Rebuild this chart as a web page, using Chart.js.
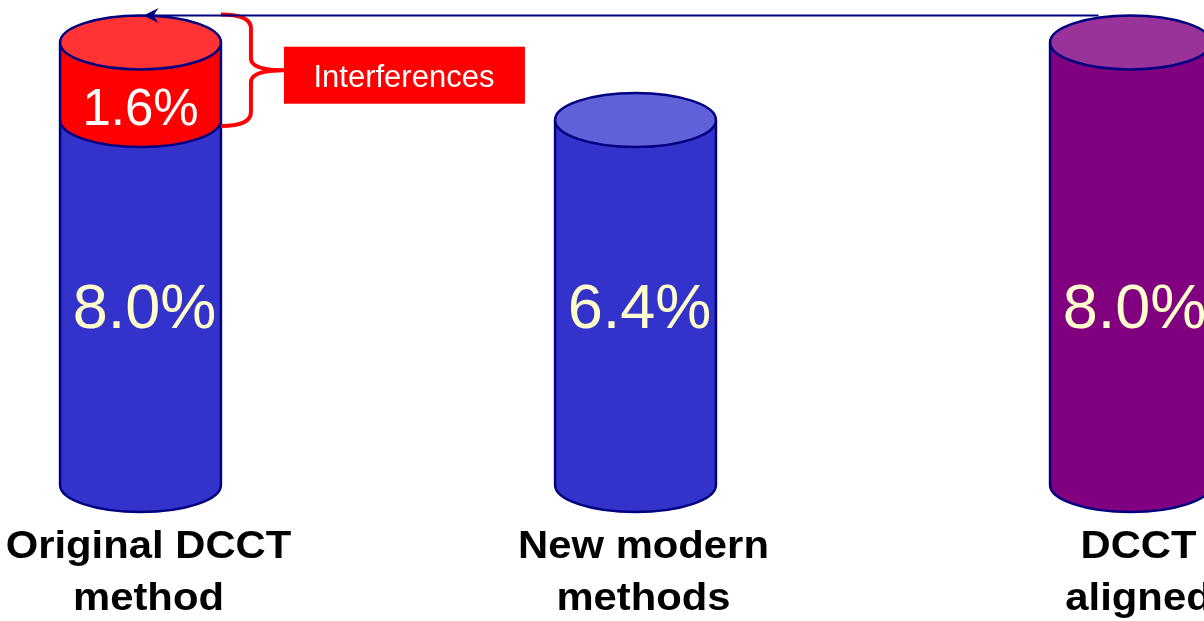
<!DOCTYPE html>
<html>
<head>
<meta charset="utf-8">
<script src="https://cdn.jsdelivr.net/npm/chart.js@4"></script>
<style>
	html, body { margin: 0; padding: 0; background: #fff; overflow: hidden; width: 1204px; height: 621px; }
	#cylChart { position: absolute; left: -107px; top: 0; }
</style>
</head>
<body>
<canvas id="cylChart" width="1485" height="621"></canvas>
<script>
const categories = [['Original DCCT', 'method'], ['New modern', 'methods'], ['DCCT', 'aligned']];
const baseHeights = [8.0, 8.0, 9.7];
const interferenceHeights = [1.7, 0, 0];
const baseLabels = ['8.0%', '6.4%', '8.0%'];
const interferenceLabels = ['1.6%', '', ''];
const calloutText = 'Interferences';

const sideColors = ['#3333CC', '#3333CC', '#800080'];
const topColors = ['#6060D9', '#6060D9', '#993399'];
const redSide = '#FF0000';
const redTop = '#FF3333';
const outline = '#000080';
const RY = 27;
const FONT = '"Liberation Sans", Arial, sans-serif';

function cylBody(ctx, cx, rx, yt, yb, fill) {
	ctx.beginPath();
	ctx.moveTo(cx - rx, yt);
	ctx.lineTo(cx - rx, yb);
	ctx.ellipse(cx, yb, rx, RY, 0, Math.PI, 0, true);
	ctx.lineTo(cx + rx, yt);
	ctx.ellipse(cx, yt, rx, RY, 0, 0, Math.PI, true);
	ctx.closePath();
	ctx.fillStyle = fill;
	ctx.fill();
	ctx.beginPath();
	ctx.moveTo(cx - rx, yt);
	ctx.lineTo(cx - rx, yb);
	ctx.ellipse(cx, yb, rx, RY, 0, Math.PI, 0, true);
	ctx.lineTo(cx + rx, yt);
	ctx.stroke();
}

function cylTop(ctx, cx, rx, y, fill) {
	ctx.beginPath();
	ctx.ellipse(cx, y, rx, RY, 0, 0, Math.PI * 2);
	ctx.fillStyle = fill;
	ctx.fill();
	ctx.stroke();
}

const cylinderPlugin = {
	id: 'cylinders',
	beforeDatasetsDraw(chart) {
		const ctx = chart.ctx;
		const base = chart.getDatasetMeta(0).data;
		const extra = chart.getDatasetMeta(1).data;
		const y = chart.scales.y;

		ctx.save();
		ctx.lineWidth = 2.5;
		ctx.strokeStyle = outline;
		base.forEach((bar, i) => {
			const rx = bar.width / 2;
			cylBody(ctx, bar.x, rx, bar.y, bar.base, sideColors[i]);
			const top = extra[i];
			if (interferenceHeights[i] > 0) {
				cylBody(ctx, top.x, rx, top.y, top.base, redSide);
				cylTop(ctx, top.x, rx, top.y, redTop);
			} else {
				cylTop(ctx, bar.x, rx, bar.y, topColors[i]);
			}
		});

		// value labels
		ctx.textAlign = 'center';
		ctx.textBaseline = 'alphabetic';
		base.forEach((bar, i) => {
			ctx.fillStyle = '#FFFFCC';
			ctx.font = '63px ' + FONT;
			ctx.fillText(baseLabels[i], bar.x + 4, y.getPixelForValue(4) + 26);
			if (interferenceLabels[i]) {
				ctx.fillStyle = '#FFFFFF';
				ctx.font = '51px ' + FONT;
				ctx.fillText(interferenceLabels[i], extra[i].x, extra[i].base + 5);
			}
		});

		// category labels under the cylinders
		ctx.fillStyle = '#000000';
		ctx.font = 'bold 38px ' + FONT;
		const x = chart.scales.x;
		const yBase = y.getPixelForValue(0);
		categories.forEach((lines, i) => {
			const cx = x.getPixelForValue(i) + 8;
			lines.forEach((line, j) => {
				ctx.save();
				ctx.translate(cx, yBase + 73 + j * 52);
				ctx.scale(1.1, 1);
				ctx.fillText(line, 0, 0);
				ctx.restore();
			});
		});

		// bracket + callout on the first cylinder
		const seg = extra[0];
		const right = seg.x + seg.width / 2;
		const bTop = seg.y - RY - 1;
		const bBot = seg.base + 6;
		const tip = (bTop + bBot) / 2;
		const xm = right + 30;
		const xt = right + 63;
		ctx.strokeStyle = '#FF0000';
		ctx.lineWidth = 4;
		ctx.beginPath();
		ctx.moveTo(right, bTop);
		ctx.quadraticCurveTo(xm, bTop, xm, bTop + 14);
		ctx.lineTo(xm, tip - 12);
		ctx.quadraticCurveTo(xm, tip, xt, tip);
		ctx.moveTo(xt, tip);
		ctx.quadraticCurveTo(xm, tip, xm, tip + 12);
		ctx.lineTo(xm, bBot - 14);
		ctx.quadraticCurveTo(xm, bBot, right, bBot);
		ctx.stroke();

		ctx.fillStyle = '#FF0000';
		ctx.fillRect(xt, tip - 23.5, 241, 57);
		ctx.fillStyle = '#FFFFFF';
		ctx.font = '31px ' + FONT;
		ctx.fillText(calloutText, xt + 120, tip + 16.5);

		// arrow from the aligned cylinder back to the original top
		const ay = seg.y - RY;
		const x0 = base[2].x - 32;
		const x1 = seg.x + 3;
		ctx.strokeStyle = outline;
		ctx.fillStyle = outline;
		ctx.lineWidth = 2;
		ctx.beginPath();
		ctx.moveTo(x0, ay);
		ctx.lineTo(x1 + 10, ay);
		ctx.stroke();
		ctx.beginPath();
		ctx.moveTo(x1, ay);
		ctx.lineTo(x1 + 15, ay - 7.5);
		ctx.lineTo(x1 + 10, ay);
		ctx.lineTo(x1 + 15, ay + 7.5);
		ctx.closePath();
		ctx.fill();
		ctx.restore();
		return false;
	}
};

const canvas = document.getElementById('cylChart');
new Chart(canvas.getContext('2d'), {
	type: 'bar',
	data: {
		labels: categories,
		datasets: [
			{ label: 'Measured', data: baseHeights, backgroundColor: sideColors, stack: 's' },
			{ label: 'Interferences', data: interferenceHeights, backgroundColor: redSide, stack: 's' }
		]
	},
	options: {
		responsive: false,
		maintainAspectRatio: false,
		animation: false,
		barPercentage: 0.325,
		categoryPercentage: 1,
		layout: { padding: { top: 0, bottom: 136, left: 0, right: 0 } },
		scales: {
			x: { display: false, stacked: true },
			y: { display: false, stacked: true, min: 0, max: 10.63 }
		},
		plugins: { legend: { display: false }, tooltip: { enabled: false } }
	},
	plugins: [cylinderPlugin]
});
</script>
</body>
</html>
